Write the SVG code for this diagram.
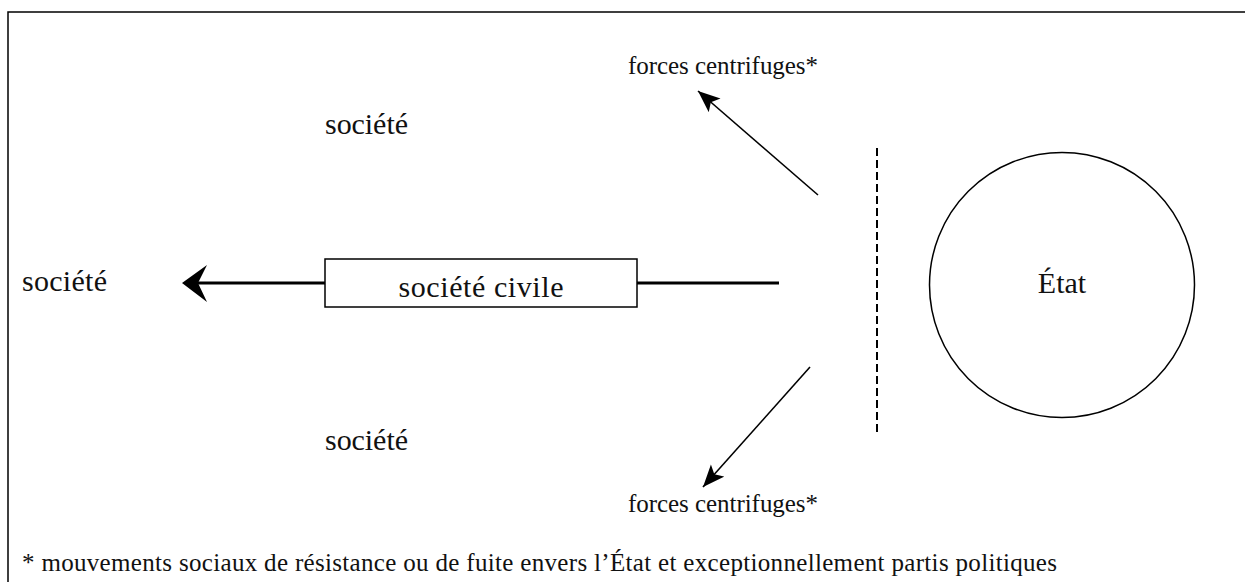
<svg xmlns="http://www.w3.org/2000/svg" width="1245" height="582" viewBox="0 0 1245 582">
<style>
.t{font-family:"Liberation Serif","Times New Roman",serif;fill:#111}
.big{font-size:30px}
.sm{font-size:25px}
.ln{stroke:#000;fill:none}
</style>
<defs>
<marker id="ah" markerUnits="userSpaceOnUse" markerWidth="24" markerHeight="20" refX="22" refY="9" orient="auto" viewBox="0 0 24 20">
<path d="M0,0 L22,9 L0,18 L5,9 z" fill="#000"/>
</marker>
</defs>
<rect width="1245" height="582" fill="#fff"/>
<rect x="8" y="12" width="1300" height="700" fill="none" stroke="#000" stroke-width="1.5"/>
<g id="connectors">
<line class="ln" x1="779" y1="283" x2="198" y2="283" stroke-width="3"/>
<path d="M182,283 L207,265 L198,283 L207,302 z" fill="#000"/>
<line class="ln" x1="818" y1="195" x2="698" y2="91" stroke-width="1.6" marker-end="url(#ah)"/>
<line class="ln" x1="810" y1="367" x2="703" y2="487" stroke-width="1.6" marker-end="url(#ah)"/>
<line class="ln" x1="877" y1="148" x2="877" y2="433" stroke-width="2" stroke-dasharray="8,4"/>
</g>
<g id="societe-civile">
<rect x="325" y="259" width="312" height="48" fill="#fff" stroke="#000" stroke-width="1.5"/>
<text class="t big" x="481" y="297" text-anchor="middle" textLength="165" lengthAdjust="spacing">société civile</text>
</g>
<g id="etat">
<circle cx="1062" cy="285" r="132.5" fill="none" stroke="#000" stroke-width="1.5"/>
<text class="t big" x="1062" y="293" text-anchor="middle">État</text>
</g>
<g id="societe-top"><text class="t big" x="325" y="134" textLength="83" lengthAdjust="spacing">société</text></g>
<g id="societe-left"><text class="t big" x="22" y="291" textLength="85" lengthAdjust="spacing">société</text></g>
<g id="societe-bottom"><text class="t big" x="325" y="450" textLength="83" lengthAdjust="spacing">société</text></g>
<g id="forces-top"><text class="t sm" x="628" y="74" textLength="190" lengthAdjust="spacing">forces centrifuges*</text></g>
<g id="forces-bottom"><text class="t sm" x="628" y="512" textLength="190" lengthAdjust="spacing">forces centrifuges*</text></g>
<g id="footnote"><text class="t sm" x="22" y="571" textLength="1035" lengthAdjust="spacing">* mouvements sociaux de résistance ou de fuite envers l’État et exceptionnellement partis politiques</text></g>
</svg>
